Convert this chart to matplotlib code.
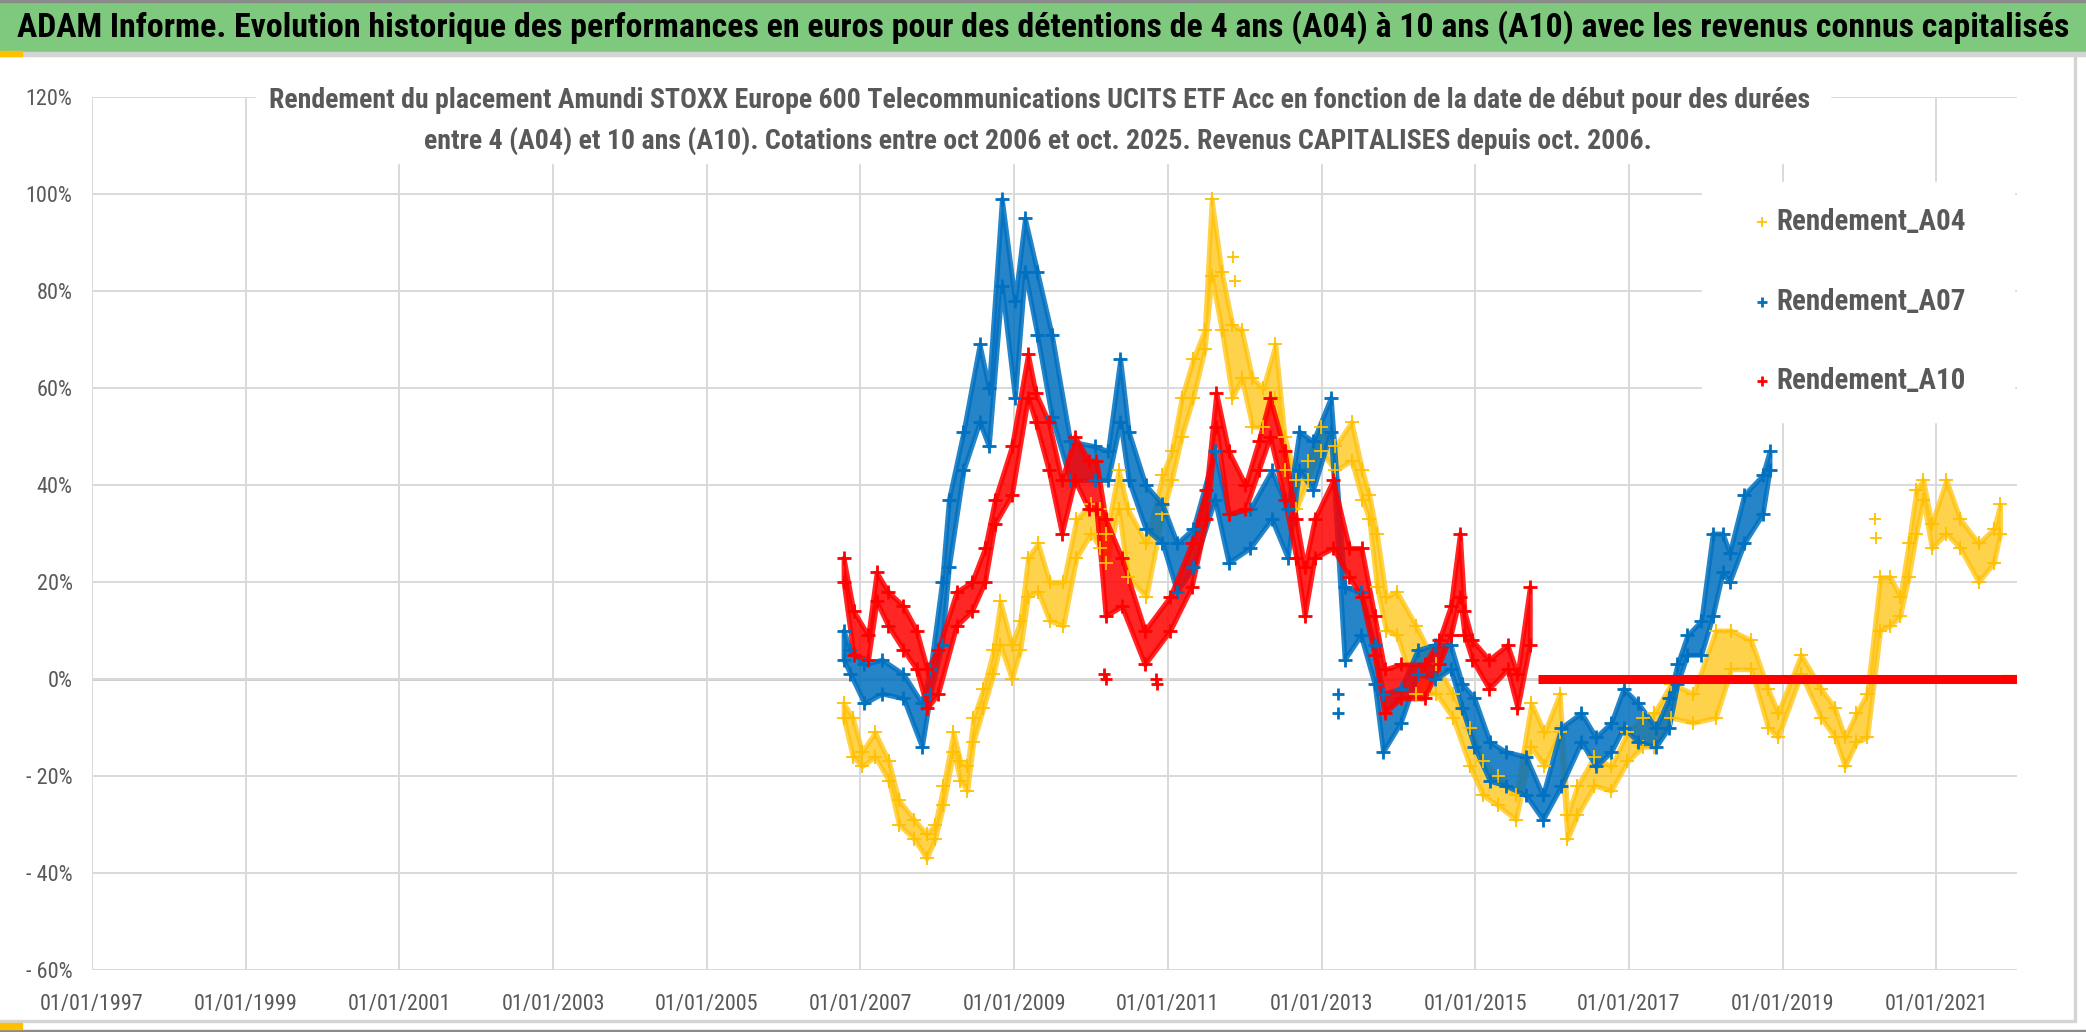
"""
Rendement Amundi STOXX Europe 600 Telecommunications, durées 4 à 10 ans.
"""
import numpy as np
import matplotlib
matplotlib.use('Agg')
import matplotlib.pyplot as plt
from matplotlib import font_manager
from matplotlib.patches import Rectangle
from matplotlib.lines import Line2D

# ---- data (year fraction, % low / high of the cloud) ----
a04_t = [2006.78, 2006.90, 2007.02, 2007.19, 2007.37, 2007.50, 2007.70, 2007.86, 2007.97, 2008.08,
         2008.21, 2008.30, 2008.39, 2008.47, 2008.60, 2008.73, 2008.82, 2008.97, 2009.08, 2009.18,
         2009.31, 2009.46, 2009.64, 2009.81, 2010.00, 2010.12, 2010.20, 2010.36, 2010.48, 2010.72,
         2010.93, 2011.05, 2011.18, 2011.33, 2011.48, 2011.57, 2011.70, 2011.84, 2011.96, 2012.10,
         2012.24, 2012.40, 2012.52, 2012.67, 2012.82, 2012.99, 2013.18, 2013.39, 2013.53, 2013.62,
         2013.72, 2013.84, 2013.98, 2014.23, 2014.49, 2014.71, 2014.93, 2015.10, 2015.29, 2015.53,
         2015.73, 2015.90, 2016.10, 2016.20, 2016.33, 2016.55, 2016.77, 2016.98, 2017.18, 2017.33,
         2017.55, 2017.84, 2018.13, 2018.33, 2018.59, 2018.81, 2018.94, 2019.24, 2019.50, 2019.68,
         2019.81, 2019.96, 2020.10, 2020.27, 2020.40, 2020.53, 2020.64, 2020.74, 2020.83, 2020.94,
         2021.13, 2021.31, 2021.55, 2021.75, 2021.83]
a04_lo = [-8, -16, -18, -16, -21, -30, -33, -37, -33, -26, -15, -21, -23, -13, -6, 1, 7, 0, 6, 17,
          18, 12, 11, 25, 30, 27, 24, 35, 21, 17, 34, 41, 50, 58, 68, 83, 72, 58, 62, 52,
          52, 58, 43, 35, 41, 47, 43, 45, 37, 33, 19, 10, 9, -3, -3, -8, -18, -24, -26, -29,
          -14, -18, -11, -33, -28, -22, -23, -17, -14, -14, -8, -9, -8, 2, 2, -10, -12, 1, -8, -12,
          -18, -13, -12, 10, 11, 13, 21, 30, 37, 27, 30, 27, 20, 24, 30]
a04_hi = [-5, -8, -15, -11, -17, -25, -29, -32, -30, -22, -11, -17, -18, -8, -2, 6, 16, 7, 12, 25,
          28, 20, 20, 33, 36, 35, 30, 43, 35, 28, 42, 47, 58, 66, 72, 99, 84, 73, 72, 62,
          60, 69, 50, 41, 45, 52, 48, 53, 43, 38, 30, 17, 18, 11, 3, -3, -10, -17, -20, -24,
          -5, -11, -3, -28, -22, -16, -18, -11, -8, -7, -1, -3, 10, 10, 8, -2, -7, 5, -2, -6,
          -12, -7, -3, 21, 21, 17, 28, 39, 41, 32, 41, 33, 28, 31, 36]
a04_out_t = [2011.85, 2011.87, 2020.20, 2020.21]
a04_out_v = [87, 82, 33, 29]
a04_zero_t = [2021.86, 2022.05]
a04_zero_v = [0, 0]

a07_t = [2006.78, 2006.87, 2007.05, 2007.28, 2007.56, 2007.80, 2007.91, 2008.06, 2008.15, 2008.34,
         2008.55, 2008.67, 2008.84, 2009.01, 2009.14, 2009.30, 2009.49, 2009.73, 2010.05, 2010.22,
         2010.38, 2010.49, 2010.71, 2010.93, 2011.12, 2011.33, 2011.61, 2011.79, 2012.07, 2012.35,
         2012.56, 2012.71, 2012.89, 2013.12, 2013.30, 2013.51, 2013.69, 2013.80, 2014.03, 2014.25,
         2014.47, 2014.68, 2014.83, 2014.99, 2015.19, 2015.40, 2015.66, 2015.88, 2016.12, 2016.38,
         2016.57, 2016.77, 2016.93, 2017.12, 2017.35, 2017.52, 2017.63, 2017.76, 2017.94, 2018.09,
         2018.22, 2018.31, 2018.50, 2018.74, 2018.83]
a07_lo = [4, 1, -5, -3, -4, -14, -3, 7, 23, 43, 53, 48, 81, 58, 84, 71, 54, 41, 41, 41,
          53, 41, 31, 28, 18, 23, 37, 24, 27, 33, 25, 43, 39, 51, 4, 9, -1, -15, -9, 1,
          0, 2, -6, -14, -21, -22, -24, -29, -22, -13, -18, -15, -10, -13, -14, -10, -1, 5, 5, 13,
          22, 20, 28, 34, 43]
a07_hi = [10, 6, 3, 4, 1, -5, 2, 20, 37, 51, 69, 60, 99, 78, 95, 84, 71, 49, 48, 47,
          66, 51, 40, 36, 28, 31, 47, 34, 35, 43, 35, 51, 49, 58, 19, 18, 7, -3, -2, 6,
          7, 7, -1, -4, -13, -15, -16, -24, -10, -7, -12, -9, -2, -5, -10, -4, 3, 9, 12, 30,
          30, 26, 38, 42, 47]
a07_out_t = [2013.21, 2013.22]
a07_out_v = [-3, -7]

a10_t = [2006.78, 2006.91, 2007.10, 2007.21, 2007.36, 2007.56, 2007.73, 2007.87, 2008.01, 2008.25,
         2008.45, 2008.62, 2008.75, 2008.97, 2009.18, 2009.28, 2009.45, 2009.62, 2009.79, 2009.97,
         2010.07, 2010.19, 2010.40, 2010.70, 2011.03, 2011.31, 2011.50, 2011.63, 2011.79, 2012.01,
         2012.18, 2012.33, 2012.52, 2012.67, 2012.78, 2012.91, 2013.15, 2013.36, 2013.52, 2013.69,
         2013.82, 2014.03, 2014.34, 2014.53, 2014.68, 2014.80, 2014.86, 2014.96, 2015.18, 2015.42,
         2015.55, 2015.71]
a10_lo = [20, 5, 4, 16, 11, 6, 2, -6, -3, 11, 14, 20, 32, 38, 58, 53, 43, 30, 41, 35,
          35, 13, 15, 3, 10, 19, 33, 52, 34, 35, 43, 50, 37, 25, 13, 25, 27, 21, 17, 5,
          -7, -4, -4, 3, 9, 17, 9, 4, -2, 2, -6, 7]
a10_hi = [25, 14, 9, 22, 18, 15, 10, 2, 6, 18, 20, 27, 37, 48, 67, 59, 53, 41, 50, 45,
          45, 33, 25, 10, 17, 28, 39, 59, 47, 40, 49, 58, 47, 33, 23, 33, 41, 27, 27, 13,
          2, 3, 3, 8, 15, 30, 14, 8, 4, 7, 1, 19]
a10_out_t = [2010.17, 2010.19, 2010.84, 2010.86]
a10_out_v = [1, 0, 0, -1]
a10_zero_t = [2015.82, 2022.05]
a10_zero_v = [0, 0]

tick_years = [1997, 1999, 2001, 2003, 2005, 2007, 2009, 2011, 2013, 2015, 2017, 2019, 2021]
y_ticks = [-60, -40, -20, 0, 20, 40, 60, 80, 100, 120]
y_labels = ['- 60%', '- 40%', '- 20%', '0%', '20%', '40%', '60%', '80%', '100%', '120%']
series_names = ['Rendement_A04', 'Rendement_A07', 'Rendement_A10']

title = ("ADAM Informe. Evolution historique des performances en euros pour des détentions "
         "de 4 ans (A04) à 10 ans (A10) avec les revenus connus capitalisés")
sub1 = ("Rendement du placement Amundi STOXX Europe 600 Telecommunications UCITS ETF Acc "
        "en fonction de la date de début pour des durées")
sub2 = ("entre 4 (A04) et 10 ans (A10). Cotations entre oct 2006 et oct. 2025. "
        "Revenus CAPITALISES depuis oct. 2006.")

YEL, BLU, RED = '#ffc000', '#0070c0', '#ff0000'
GREY_TXT = '#595959'

# narrowest installed sans face, the original uses a condensed Calibri look
names = {f.name for f in font_manager.fontManager.ttflist}
stretch = 'normal'
family = 'DejaVu Sans'
for cand in ['Liberation Sans Narrow', 'Roboto Condensed', 'Open Sans Condensed',
             'Noto Sans Condensed', 'DejaVu Sans Condensed']:
    if cand in names:
        family = cand
        break
else:
    for f in font_manager.fontManager.ttflist:
        if f.name in ('DejaVu Sans', 'Noto Sans', 'Open Sans', 'Roboto') and \
                f.stretch in ('condensed', 'semi-condensed', 'extra-condensed'):
            family, stretch = f.name, 'condensed'
            break
plt.rcParams['font.family'] = [family, 'DejaVu Sans']
plt.rcParams['font.stretch'] = stretch

W, H = 2086, 1032
fig = plt.figure(figsize=(W / 100, H / 100), dpi=100)


def fx(px):
    return px / W


def fy(py):
    return 1 - py / H


ax = fig.add_axes([fx(92), fy(970), fx(2017) - fx(92), fy(97) - fy(970)])
ax.set_xlim(1997, 2022.05)
ax.set_ylim(-60, 120)
ax.set_xticks(tick_years)
ax.set_xticklabels(['01/01/%d' % y for y in tick_years])
ax.set_yticks(y_ticks)
ax.set_yticklabels(y_labels)
ax.set_axisbelow(True)
ax.grid(True, color='#d9d9d9', lw=1.4)
ax.axhline(0, color='#bfbfbf', lw=1.8, zorder=0.5)
for s in ax.spines.values():
    s.set_visible(False)
ax.tick_params(length=0, labelcolor=GREY_TXT, labelsize=16)
ax.tick_params(axis='y', pad=14)
ax.tick_params(axis='x', pad=17)

# clouds of daily points: band between low/high readings plus crosses on the edges
for t, lo, hi, col, mew, alpha in [(a04_t, a04_lo, a04_hi, YEL, 1.3, 0.7),
                                   (a07_t, a07_lo, a07_hi, BLU, 2.0, 0.85),
                                   (a10_t, a10_lo, a10_hi, RED, 2.0, 0.85)]:
    ax.fill_between(t, lo, hi, color=col, alpha=alpha, lw=3.5, edgecolor=col, zorder=2)
    ax.plot(t, lo, '+', color=col, ms=10, mew=mew, ls='none', zorder=3)
    ax.plot(t, hi, '+', color=col, ms=10, mew=mew, ls='none', zorder=3)

ax.plot(a04_out_t, a04_out_v, '+', color=YEL, ms=9, mew=1.3, ls='none', zorder=3)
ax.plot(a07_out_t, a07_out_v, '+', color=BLU, ms=8, mew=2, ls='none', zorder=3)
ax.plot(a10_out_t, a10_out_v, '+', color=RED, ms=8, mew=2, ls='none', zorder=3)
ax.plot(a04_zero_t, a04_zero_v, color=YEL, lw=6, solid_capstyle='butt', zorder=3)
ax.plot(a10_zero_t, a10_zero_v, color=RED, lw=6.5, solid_capstyle='butt', zorder=4)

# page decoration: green band, borders
fig.add_artist(Rectangle((0, fy(52)), 1, 52 / H, color='#7fc97f', zorder=0.2))
fig.add_artist(Rectangle((0, fy(56)), 1, 4 / H, color='#d4d4d4', zorder=0.2))
fig.add_artist(Rectangle((0, fy(2)), 1, 2 / H, color='#8a8a8a', zorder=0.2))
fig.add_artist(Rectangle((fx(2074), fy(1021)), 2 / W, (1021 - 56) / H, color='#d4d4d4', zorder=0.2))
fig.add_artist(Rectangle((0, fy(1022)), fx(2076), 2 / H, color='#d4d4d4', zorder=0.2))
fig.add_artist(Rectangle((0, fy(56)), fx(22), 5 / H, color=YEL, zorder=0.3))
fig.add_artist(Rectangle((0, fy(1029)), fx(22), 6 / H, color=YEL, zorder=0.3))
fig.add_artist(Rectangle((0, fy(1032)), 1, 2 / H, color='#8a8a8a', zorder=0.2))

# white boxes behind subtitle and legend
fig.add_artist(Rectangle((fx(256), fy(163)), fx(1830) - fx(256), (163 - 70) / H,
                         color='white', zorder=1))
fig.add_artist(Rectangle((fx(1702), fy(422)), fx(2014) - fx(1702), (422 - 182) / H,
                         color='white', zorder=1))

t_title = fig.text(fx(1043), fy(27), title, ha='center', va='center', fontsize=24,
                   fontweight='bold', color='black', zorder=3)
t_sub1 = fig.text(fx(1040), fy(101), sub1, ha='center', va='center', fontsize=20,
                  fontweight='bold', color=GREY_TXT, zorder=3)
t_sub2 = fig.text(fx(1038), fy(141), sub2, ha='center', va='center', fontsize=20,
                  fontweight='bold', color=GREY_TXT, zorder=3)

leg_texts = []
for name, col, mew, yy in zip(series_names, [YEL, BLU, RED], [1.3, 2.0, 2.0], [222, 302, 381]):
    fig.add_artist(Line2D([fx(1762)], [fy(yy)], marker='+', color=col, ms=7, mew=mew,
                          ls='none', zorder=3))
    leg_texts.append(fig.text(fx(1776), fy(yy), name, ha='left', va='center', fontsize=20,
                              fontweight='bold', color=GREY_TXT, zorder=3))

# size the texts to the widths they take in the reference
fig.canvas.draw()
rend = fig.canvas.get_renderer()


def fit(txt, width_px):
    w = txt.get_window_extent(rend).width
    txt.set_fontsize(txt.get_fontsize() * width_px / w)


fit(t_title, 2060)
fit(t_sub1, 1542)
t_sub2.set_fontsize(t_sub1.get_fontsize())
for lt in leg_texts:
    fit(lt, 189)

xl = ax.get_xticklabels()
fit(xl[0], 104)
for lab in xl[1:]:
    lab.set_fontsize(xl[0].get_fontsize())
yl = ax.get_yticklabels()
fit(yl[-1], 47)
for lab in yl[:-1]:
    lab.set_fontsize(yl[-1].get_fontsize())

fig.savefig('out.png', dpi=100)
